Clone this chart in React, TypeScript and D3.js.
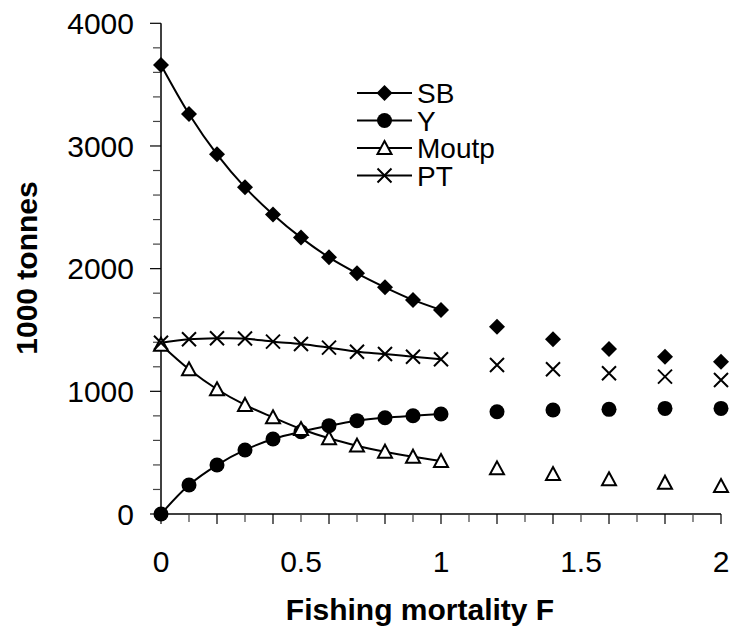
import React, { useEffect, useRef } from 'react';
import * as d3 from 'd3';

// Fishing mortality values
const fValues = [0, 0.1, 0.2, 0.3, 0.4, 0.5, 0.6, 0.7, 0.8, 0.9, 1, 1.2, 1.4, 1.6, 1.8, 2];

// Series values (1000 tonnes)
const sbValues = [3660, 3261, 2932, 2663, 2442, 2253, 2092, 1962, 1848, 1745, 1663, 1527, 1424, 1345, 1282, 1242];
const yValues = [0, 236, 399, 522, 611, 671, 720, 761, 785, 801, 815, 834, 848, 853, 861, 861];
const moutpValues = [1380, 1180, 1017, 889, 788, 693, 617, 557, 508, 467, 432, 372, 326, 283, 255, 228];
const ptValues = [1396, 1424, 1432, 1430, 1405, 1386, 1356, 1323, 1304, 1282, 1261, 1215, 1180, 1147, 1120, 1092];

const seriesNames = ['SB', 'Y', 'Moutp', 'PT'];
const xTickLabels = [0, 0.5, 1, 1.5, 2];
const yTickLabels = [0, 1000, 2000, 3000, 4000];

const FONT = '"Liberation Sans", Arial, sans-serif';

function App() {
  const chartRef = useRef<SVGSVGElement>(null);

  useEffect(() => {
    const width = 731;
    const height = 643;
    const svg = d3.select(chartRef.current);
    svg.selectAll('*').remove();

    const x = d3.scaleLinear().domain([0, 2]).range([161, 721]);
    const y = d3.scaleLinear().domain([0, 4000]).range([514, 23.3]);

    // Marker drawing helper
    const drawMarker = (g: any, kind: string, cx: number, cy: number) => {
      if (kind === 'SB') {
        const r = 8;
        g.append('path')
          .attr('d', `M${cx},${cy - r}L${cx + r},${cy}L${cx},${cy + r}L${cx - r},${cy}Z`)
          .attr('fill', '#000');
      } else if (kind === 'Y') {
        g.append('circle').attr('cx', cx).attr('cy', cy).attr('r', 7.5).attr('fill', '#000');
      } else if (kind === 'Moutp') {
        const s = 7;
        g.append('path')
          .attr('d', `M${cx},${cy - s}L${cx + s},${cy + s * 0.85}L${cx - s},${cy + s * 0.85}Z`)
          .attr('fill', '#fff')
          .attr('stroke', '#000')
          .attr('stroke-width', 2);
      } else {
        const s = 7;
        g.append('path')
          .attr('d', `M${cx - s},${cy - s}L${cx + s},${cy + s}M${cx - s},${cy + s}L${cx + s},${cy - s}`)
          .attr('stroke', '#000')
          .attr('stroke-width', 2);
      }
    };

    // Axes
    const axisG = svg.append('g');
    axisG.append('line').attr('x1', 161).attr('x2', 161).attr('y1', y(4000)).attr('y2', y(0))
      .attr('stroke', '#000').attr('stroke-width', 1.5);
    axisG.append('line').attr('x1', x(0)).attr('x2', x(2)).attr('y1', 514).attr('y2', 514)
      .attr('stroke', '#000').attr('stroke-width', 1.5);

    // y ticks every 200, long at 1000
    d3.range(0, 4001, 200).forEach((v) => {
      const major = v % 1000 === 0;
      axisG.append('line')
        .attr('x1', 161 - (major ? 11 : 8)).attr('x2', 161)
        .attr('y1', y(v)).attr('y2', y(v))
        .attr('stroke', major ? '#000' : '#444').attr('stroke-width', 1.2);
    });
    yTickLabels.forEach((v) => {
      axisG.append('text')
        .attr('x', 134).attr('y', y(v)).attr('dy', '0.36em')
        .attr('text-anchor', 'end')
        .style('font-family', FONT).style('font-size', '30px')
        .text(v);
    });

    // x ticks every 0.1
    d3.range(0, 21).forEach((i) => {
      const v = i / 10;
      const major = i % 2 === 0;
      axisG.append('line')
        .attr('x1', x(v)).attr('x2', x(v))
        .attr('y1', 514).attr('y2', 514 + (major ? 10 : 8))
        .attr('stroke', major ? '#000' : '#444').attr('stroke-width', 1.2);
    });
    xTickLabels.forEach((v) => {
      axisG.append('text')
        .attr('x', x(v)).attr('y', 572)
        .attr('text-anchor', 'middle')
        .style('font-family', FONT).style('font-size', '30px')
        .text(v);
    });

    // Axis titles
    svg.append('text')
      .attr('x', 420).attr('y', 620)
      .attr('text-anchor', 'middle')
      .style('font-family', FONT).style('font-size', '30px').style('font-weight', 'bold')
      .text('Fishing mortality F');
    svg.append('text')
      .attr('transform', 'translate(37,268) rotate(-90)')
      .attr('text-anchor', 'middle')
      .style('font-family', FONT).style('font-size', '30px').style('font-weight', 'bold')
      .text('1000 tonnes');

    // Series
    const seriesValues = [sbValues, yValues, moutpValues, ptValues];
    const line = d3.line<[number, number]>()
      .x((d) => x(d[0]))
      .y((d) => y(d[1]))
      .curve(d3.curveCatmullRom.alpha(0.5));

    const plotG = svg.append('g');
    // lines first (solid only up to F = 1)
    seriesValues.forEach((vals) => {
      const pts: [number, number][] = fValues
        .map((f, i) => [f, vals[i]] as [number, number])
        .filter((d) => d[0] <= 1);
      plotG.append('path')
        .datum(pts)
        .attr('fill', 'none')
        .attr('stroke', '#000')
        .attr('stroke-width', 2)
        .attr('d', line);
    });
    seriesValues.forEach((vals, si) => {
      fValues.forEach((f, i) => {
        drawMarker(plotG, seriesNames[si], x(f), y(vals[i]));
      });
    });

    // Legend
    const legend = svg.append('g').attr('transform', 'translate(357,93)');
    seriesNames.forEach((name, i) => {
      const ly = i * 27.5;
      legend.append('line')
        .attr('x1', 0).attr('x2', 55).attr('y1', ly).attr('y2', ly)
        .attr('stroke', '#000').attr('stroke-width', 2);
      drawMarker(legend, name, 27.5, ly);
      legend.append('text')
        .attr('x', 60).attr('y', ly).attr('dy', '0.36em')
        .style('font-family', FONT).style('font-size', '28px')
        .text(name);
    });

    svg.attr('width', width).attr('height', height);
  }, []);

  return (
    <div style={{ position: 'absolute', left: 0, top: 0 }}>
      <svg ref={chartRef} width={731} height={643} style={{ display: 'block', background: '#fff' }}></svg>
    </div>
  );
}

export default App;
